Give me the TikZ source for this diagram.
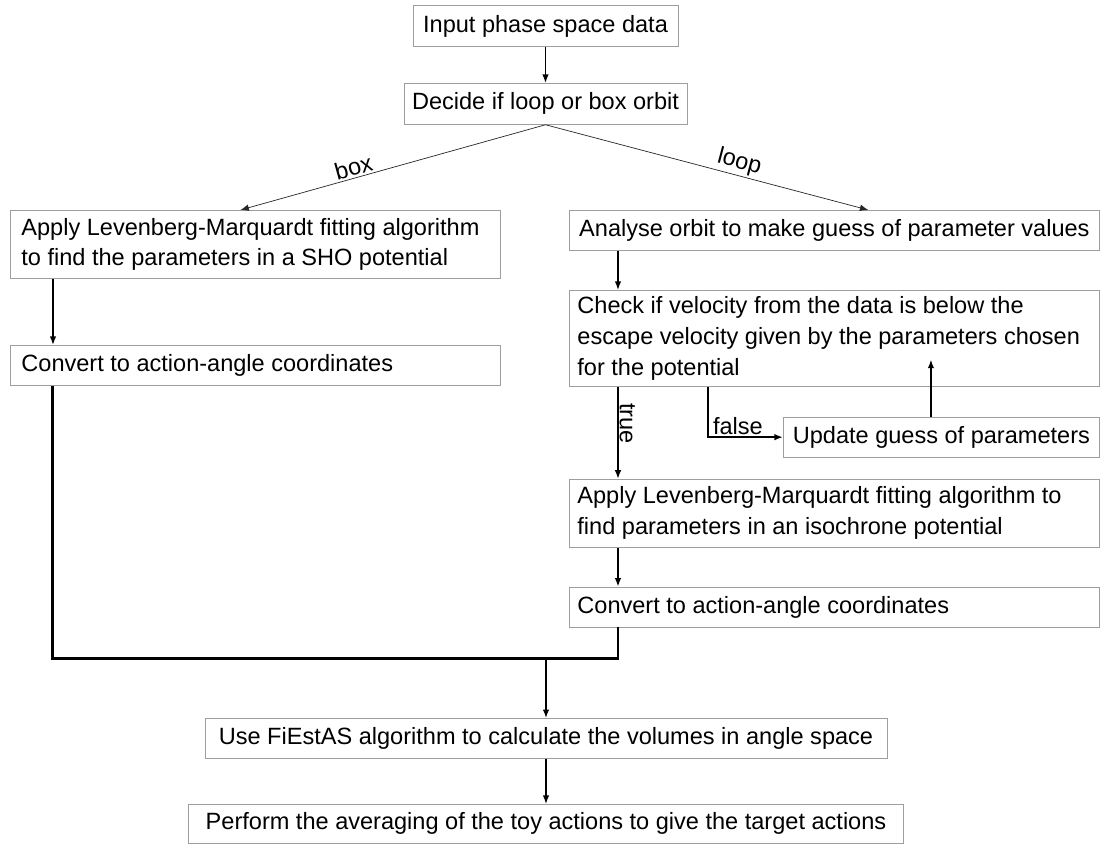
\documentclass[tikz,border=0pt]{standalone}
\usepackage{fontspec}
\setmainfont{Liberation Sans}
\usepackage{tikz}
\usetikzlibrary{arrows.meta, positioning, calc}

\begin{document}
\begin{tikzpicture}[x=0.02cm, y=-0.02cm,
    stepbox/.style={draw=black!38, rectangle, line width=0.5pt, anchor=north west, inner xsep=0.16cm, inner ysep=0pt, minimum height=0.8cm, font=\fontsize{13.4}{17.6}\selectfont, execute at begin node={\spaceskip=0pt\xspaceskip=0pt\relax}},
    lbl/.style={font=\fontsize{13.4}{16}\selectfont, inner sep=1pt},
    flow/.style={draw=black, line width=0.75pt, -{Latex[length=0.17cm, width=0.13cm]}},
    choice/.style={draw=black!85, line width=0.4pt, -{Latex[length=0.17cm, width=0.13cm]}},
    joinline/.style={draw=black, line width=1.7pt, line join=miter}
]
    \useasboundingbox (0,0) rectangle (1101,843);

    % Top
    \node[stepbox, anchor=north, minimum width=5.3cm, minimum height=0.82cm] (input) at (545.5,5) {Input phase space data};
    \node[stepbox, below=0.72cm of input, minimum width=5.54cm, minimum height=0.82cm] (decide) {Decide if loop or box orbit};

    % Box orbit branch
    \node[stepbox, align=left, inner xsep=0.22cm, text width=9.36cm, minimum height=1.36cm] (sho) at (10,210) {Apply Levenberg-Marquardt fitting algorithm\\to find the parameters in a SHO potential};
    \node[stepbox, below=1.32cm of sho.south west, anchor=north west, align=left, inner xsep=0.22cm, text width=9.36cm] (convL) {Convert to action-angle coordinates};

    % Loop orbit branch
    \node[stepbox, minimum width=10.6cm] (analyse) at (569,210) {Analyse orbit to make guess of parameter values};
    \node[stepbox, below=0.78cm of analyse.south west, anchor=north west, align=left, text width=10.28cm, minimum height=1.92cm] (check) {Check if velocity from the data is below the\\escape velocity given by the parameters chosen\\for the potential};
    \node[stepbox, below=0.6cm of check.south east, anchor=north east, minimum width=6.32cm] (update) {Update guess of parameters};
    \node[stepbox, below=1.84cm of check.south west, anchor=north west, align=left, text width=10.28cm, minimum height=1.36cm] (iso) {Apply Levenberg-Marquardt fitting algorithm to\\find parameters in an isochrone potential};
    \node[stepbox, below=0.78cm of iso.south west, anchor=north west, align=left, text width=10.28cm] (convR) {Convert to action-angle coordinates};

    % Bottom
    \node[stepbox, anchor=north, minimum width=13.64cm] (fiestas) at (546,718) {Use FiEstAS algorithm to calculate the volumes in angle space};
    \node[stepbox, below=0.9cm of fiestas, minimum width=14.3cm, minimum height=0.78cm] (perform) {Perform the averaging of the toy actions to give the target actions};
    \coordinate[above=1.2cm of fiestas] (junction);

    % Connections
    \draw[flow] (input) -- (decide);
    \draw[choice] (decide.south) -- node[lbl, pos=0.62, sloped, above] {box} ([xshift=-0.3cm]sho.north);
    \draw[choice] (decide.south) -- node[lbl, pos=0.59, sloped, above] {loop} ([xshift=0.68cm]analyse.north);

    \draw[flow] ([xshift=0.86cm]sho.south west) -- ([xshift=0.86cm]convL.north west);

    \draw[flow] ([xshift=0.98cm]analyse.south west) -- ([xshift=0.98cm]check.north west);
    \draw[flow] ([xshift=0.98cm]check.south west) -- node[lbl, pos=0.4, rotate=-90, anchor=south, inner sep=0.5pt] {true} ([xshift=0.98cm]iso.north west);
    \draw[flow, line width=1.1pt] ([xshift=2.78cm]check.south west) |- node[lbl, pos=0.7, above] {false} (update.west);
    \coordinate (upd-top) at ([xshift=2.96cm]update.north west);
    \coordinate (chk-in) at (upd-top |- check.south);
    \draw[flow] (upd-top) -- ([yshift=0.54cm]chk-in);
    \draw[flow] ([xshift=0.98cm]iso.south west) -- ([xshift=0.98cm]convR.north west);

    \draw[joinline] ([xshift=0.86cm]convL.south west) |- (junction) -| ([xshift=0.98cm]convR.south west);
    \draw[flow] (junction) -- (fiestas);
    \draw[flow] (fiestas) -- (perform);
\end{tikzpicture}
\end{document}
